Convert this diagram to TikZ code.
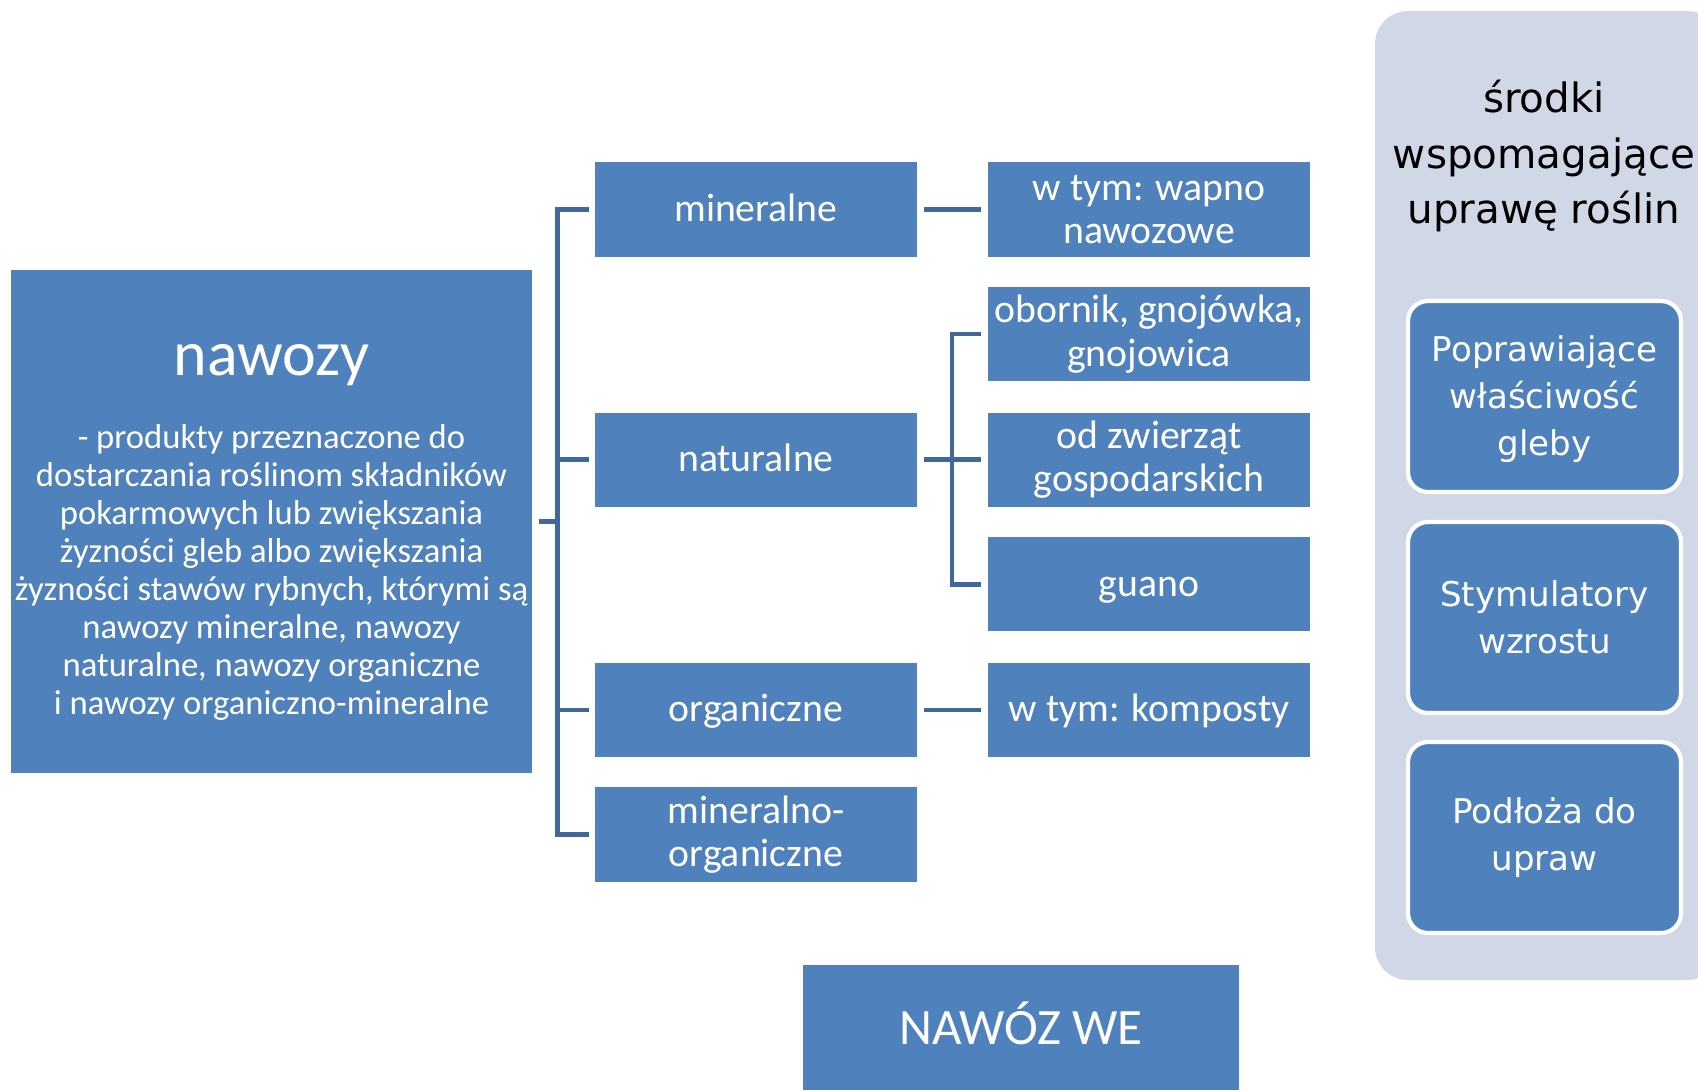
\documentclass[tikz,border=0pt]{standalone}
\usepackage{fontspec}
\setmainfont{Carlito}
\newfontfamily\widefont{DejaVu Sans}
\usepackage{tikz}
\usetikzlibrary{positioning}
\definecolor{boxblue}{HTML}{4F81BD}
\definecolor{linkblue}{HTML}{41689C}
\definecolor{panelgrey}{HTML}{D0D8E8}

\begin{document}
\begin{tikzpicture}[
  cat/.style={fill=boxblue, text=white, minimum width=3.227cm, minimum height=0.942cm, inner sep=0pt, align=center, font=\fontsize{11.3}{12.3}\selectfont},
  oneline/.style={text height=9.2pt, text depth=2.4pt},
  link/.style={draw=linkblue, line width=1.3pt},
  aid/.style={fill=boxblue, draw=white, line width=1.2pt, rounded corners=0.2cm, text=white, minimum width=2.73cm, minimum height=1.91cm, inner sep=0pt, align=center, font=\widefont\fontsize{9.7}{13.4}\selectfont}
]
\clip (0,0) rectangle (16.98,-10.90);

% main box
\node[fill=boxblue, text=white, minimum width=5.21cm, minimum height=5.03cm, inner sep=0pt, align=center, font=\fontsize{9.85}{10.8}\selectfont] (nawozy) at (2.715,-5.215)
  {{\fontsize{18.2}{21}\selectfont\rule{0pt}{15pt}nawozy}\\[10pt]
   - produkty przeznaczone do\\
   dostarczania roślinom składników\\
   pokarmowych lub zwiększania\\
   żyzności gleb albo zwiększania\\
   żyzności stawów rybnych, którymi są\\
   nawozy mineralne, nawozy\\
   naturalne, nawozy organiczne\\
   i nawozy organiczno-mineralne};

% kinds
\node[cat, oneline] (mineral) at (7.559,-2.095) {mineralne};
\node[cat, oneline] (natural) at (7.559,-4.597) {naturalne};
\node[cat, oneline] (organic) at (7.559,-7.098) {organiczne};
\node[cat] (minorg) at (7.559,-8.344) {mineralno-\\organiczne};

% examples
\node[cat] (lime) at (11.49,-2.095) {w tym: wapno\\nawozowe};
\node[cat] (manure) at (11.49,-3.341) {obornik, gnojówka,\\gnojowica};
\node[cat] (animal) at (11.49,-4.597) {od zwierząt\\gospodarskich};
\node[cat, oneline] (guano) at (11.49,-5.842) {guano};
\node[cat, oneline] (compost) at (11.49,-7.098) {w tym: komposty};

\node[cat, minimum width=4.353cm, minimum height=1.252cm, text depth=2.4pt, font=\fontsize{14.5}{17}\selectfont] (ec) at (10.21,-10.274) {NAWÓZ WE};

% brackets
\coordinate (split) at (5.577,-5.215);
\draw[link, shorten <=0.06cm] (nawozy.east) -- (split);
\draw[link, line cap=rect] (split |- mineral.west) -- (split |- minorg.west);
\foreach \n in {mineral,natural,organic,minorg}
  \draw[link, shorten >=0.05cm] (split |- \n.west) -- (\n.west);

\draw[link, shorten <=0.06cm, shorten >=0.06cm] (mineral) -- (lime);
\coordinate (split2) at (9.52,-4.597);
\draw[link, shorten <=0.06cm] (natural.east) -- (split2);
\draw[link, line cap=rect] (split2 |- manure.west) -- (split2 |- guano.west);
\foreach \n in {manure,animal,guano}
  \draw[link, shorten >=0.06cm] (split2 |- \n.west) -- (\n.west);
\draw[link, shorten <=0.06cm, shorten >=0.06cm] (organic) -- (compost);

% side panel
\node[fill=panelgrey, rounded corners=0.33cm, minimum width=3.45cm, minimum height=9.69cm, inner sep=0pt] (aids) at (15.475,-4.955) {};
\node[font=\widefont\fontsize{11.5}{15.9}\selectfont, align=center, inner sep=0pt] (aidstitle) at (15.44,-1.56) {środki\\wspomagające\\uprawę roślin};
\node[aid] (soil) at (15.445,-3.965) {\rule{0pt}{9pt}Poprawiające\\właściwość\\gleby};
\node[aid] (growth) at (15.445,-6.175) {Stymulatory\\wzrostu};
\node[aid] (substrate) at (15.445,-8.375) {Podłoża do\\upraw};
\end{tikzpicture}
\end{document}
